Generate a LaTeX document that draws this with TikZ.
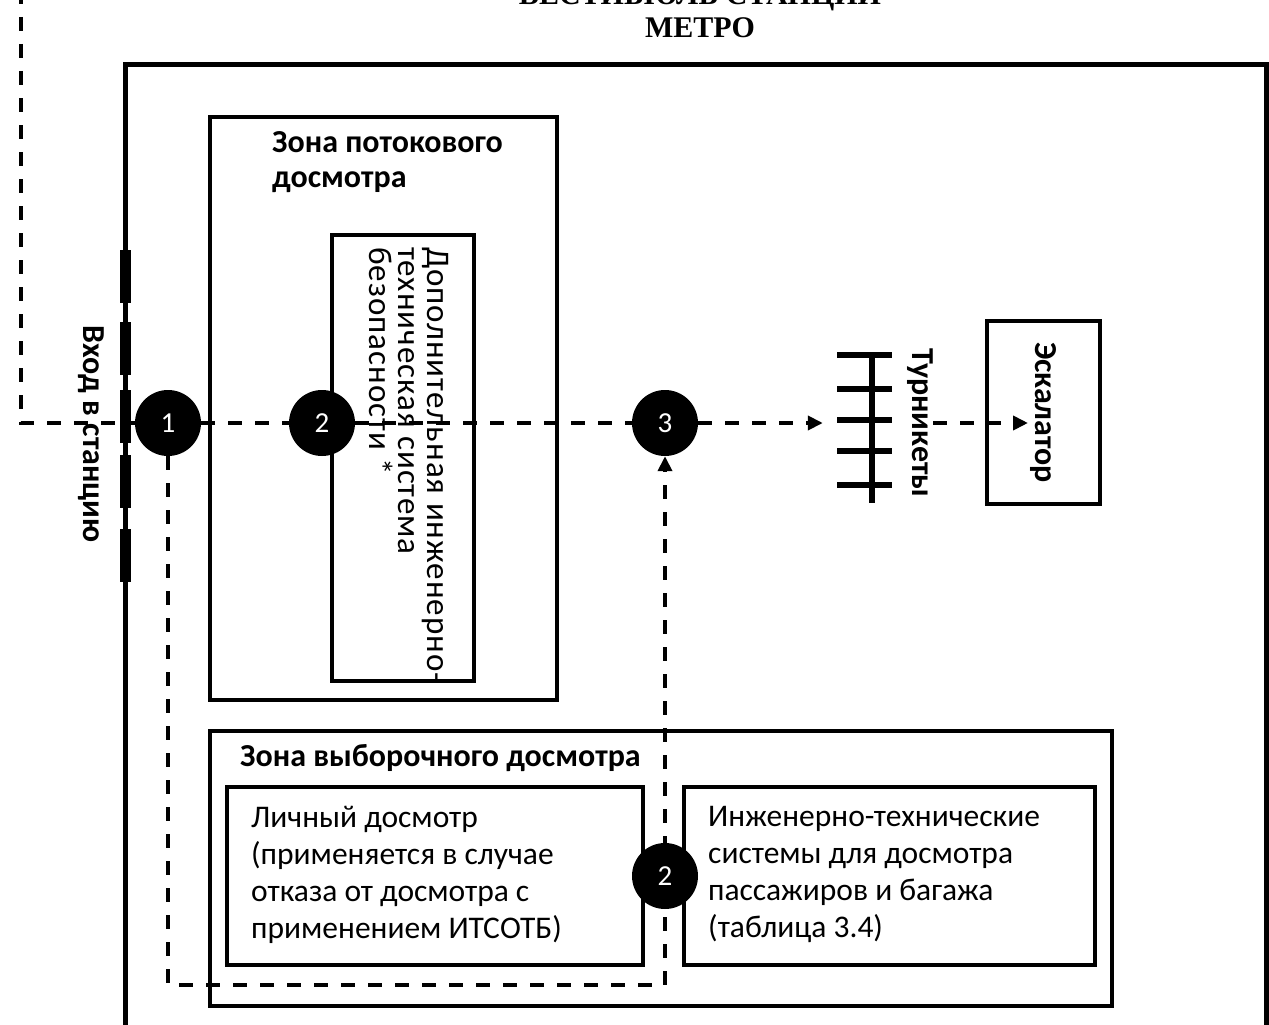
\documentclass[tikz,border=0pt]{standalone}
\usepackage{fontspec}
\setmainfont{Carlito}
\newfontfamily\headfont{Liberation Serif}
\newfontfamily\spreadfont[LetterSpace=3]{Carlito}
\usetikzlibrary{arrows.meta}
\pgfdeclarelayer{routes}
\pgfsetlayers{routes,main}

\begin{document}
\begin{tikzpicture}[x=1pt,y=-1pt,
  wall/.style={line width=5pt},
  doorseg/.style={line width=11pt},
  box/.style={draw, line width=4pt, inner sep=0pt},
  flow/.style={line width=4pt, dash pattern=on 14pt off 13pt},
  tip/.style={-{Triangle[length=15pt,width=14pt]}},
  stepdot/.style={circle, fill=black, minimum size=66pt, inner sep=0pt,
    text=white, font=\fontsize{29}{29}\selectfont},
  body/.style={font=\fontsize{31.5}{37}\selectfont, align=left, inner sep=0pt},
  head/.style={font=\fontsize{32}{35}\selectfont\bfseries, align=left, inner sep=0pt},
  vlabel/.style={font=\fontsize{32}{32}\selectfont\bfseries, rotate=-90, inner sep=0pt},
  bar/.style={line width=6pt},
]
\useasboundingbox (0,0) rectangle (1269,1025);
\clip (0,0) rectangle (1269,1025);

% heading of the vestibule
\node[font=\headfont\bfseries\fontsize{30}{33}\selectfont, align=center,
  inner sep=0pt, anchor=south] (title) at (700,38) {ВЕСТИБЮЛЬ СТАНЦИИ\\МЕТРО};

% vestibule walls
\draw[wall] (125,1040) -- (125,65) -- (1266,65) -- (1266,1040);
% entrance doors in the left wall
\foreach \a/\b in {250/303, 322/375, 390/443, 455/508, 529/582}
  \draw[doorseg] (125,\a) -- (125,\b);
\node[vlabel] (entry) at (91,434) {Вход в станцию};

% zone of flow screening
\node[box, minimum width=347pt, minimum height=583pt] (flowzone) at (383.5,408.5) {};
\node[head, anchor=north west] (flowttl) at (272,131) {Зона потокового\\досмотра};
\node[box, minimum width=142pt, minimum height=446pt] (dopbox) at (403,458) {};
\node[font=\spreadfont\fontsize{33}{29}\selectfont, align=left, inner sep=0pt, rotate=-90,
  anchor=north west] (doptext) at (449,247)
  {Дополнительная инженерно-\\техническая система\\безопасности *};

% zone of selective screening
\node[box, minimum width=902pt, minimum height=275pt] (selzone) at (661,868.5) {};
\node[head, anchor=north west] (selttl) at (240,744) {Зона выборочного досмотра};
\node[box, minimum width=416pt, minimum height=178pt] (lichbox) at (435,876) {};
\node[body, anchor=north west] (lichtext) at (251,806.5)
  {Личный досмотр\\(применяется в случае\\отказа от досмотра с\\применением ИТСОТБ)};
\node[box, minimum width=411pt, minimum height=178pt] (itbox) at (889.5,876) {};
\node[body, anchor=north west] (ittext) at (708,806.5)
  {Инженерно-технические\\системы для досмотра\\пассажиров и багажа\\(таблица 3.4)};

% turnstiles
\node[minimum width=55pt, minimum height=155pt, inner sep=0pt] (turn) at (864.5,427.5) {};
\draw[bar] (872,352) -- (872,503);
\foreach \y in {355,389,420,451,485}
  \draw[bar] (837,\y) -- (892,\y);
\node[vlabel] (turnlbl) at (920,423) {Турникеты};

% escalator
\node[box, rotate=-90, minimum width=183pt, minimum height=113pt,
  font=\fontsize{32}{32}\selectfont\bfseries] (esc) at (1043.5,412.5) {Эскалатор};

% step markers
\node[stepdot] (c1) at (168,423) {1};
\node[stepdot] (c2) at (322,423) {2};
\node[stepdot] (c3) at (665,423) {3};
\node[stepdot] (c4) at (665,876) {2};

% passenger routes, kept under the step markers
\coordinate (street) at (21,-10);
\coordinate (escin) at (1028,423);
\coordinate (loopR) at (665,985);
\begin{pgfonlayer}{routes}
  \draw[flow] (street) |- (c1);
  \draw[flow] (c1) -- (c2);
  \draw[flow] (c2) -- (c3);
  \draw[flow, tip, shorten >=14pt] (c3) -- (c3 -| turn.west);
  \draw[flow, tip] (turnlbl.north) -- (escin);
  \draw[flow, tip] (c1) |- (loopR) -- (c3);
\end{pgfonlayer}
\end{tikzpicture}
\end{document}
